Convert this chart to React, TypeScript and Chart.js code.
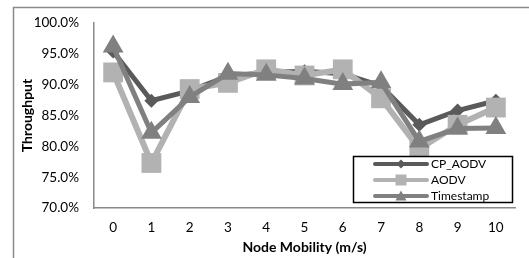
import React, { useEffect, useRef } from 'react';
import { Chart, registerables } from 'chart.js';

Chart.register(...registerables);

const categories = ['0', '1', '2', '3', '4', '5', '6', '7', '8', '9', '10'];
const cpAodv = [95.4, 87.4, 89.0, 91.4, 92.0, 92.2, 91.8, 89.8, 83.5, 85.8, 87.4];
const aodv = [92.0, 77.3, 89.3, 90.3, 92.5, 91.5, 92.5, 87.8, 79.6, 83.5, 86.3];
const timestamp = [96.2, 82.2, 88.0, 91.8, 91.6, 91.0, 90.1, 90.4, 80.8, 82.9, 83.0];
const seriesNames = ['CP_AODV', 'AODV', 'Timestamp'];
const yTicks = [70, 75, 80, 85, 90, 95, 100];

const C_CP = '#5a5a5a';
const C_AODV = '#b2b2b2';
const C_TS = '#808080';
const FONT = 'Lato, "Open Sans", sans-serif';

function marker(ctx: CanvasRenderingContext2D, kind: string, x: number, y: number, s: number) {
  ctx.beginPath();
  if (kind === 'diamond') {
    ctx.moveTo(x, y - s);
    ctx.lineTo(x + s, y);
    ctx.lineTo(x, y + s);
    ctx.lineTo(x - s, y);
  } else if (kind === 'square') {
    ctx.rect(x - s, y - s, 2 * s, 2 * s);
  } else {
    ctx.moveTo(x, y - s);
    ctx.lineTo(x + s, y + s * 0.8);
    ctx.lineTo(x - s, y + s * 0.8);
  }
  ctx.closePath();
  ctx.fill();
}

const framePlugin = {
  id: 'frame',
  beforeDraw(chart: any) {
    const ctx = chart.ctx;
    ctx.save();
    ctx.fillStyle = '#ffffff';
    ctx.fillRect(0, 0, chart.width, chart.height);
    ctx.strokeStyle = '#8a8a8a';
    ctx.lineWidth = 1.5;
    ctx.beginPath();
    ctx.moveTo(13.5, chart.height);
    ctx.lineTo(13.5, 7.5);
    ctx.lineTo(chart.width, 7.5);
    ctx.stroke();
    ctx.restore();
  },
};

const legendPlugin = {
  id: 'customLegend',
  afterDatasetsDraw(chart: any) {
    const ctx = chart.ctx;
    ctx.save();
    const bx = 353.5, by = 156.5, bw = 159, bh = 46;
    ctx.fillStyle = '#ffffff';
    ctx.fillRect(bx, by, bw, bh);
    ctx.strokeStyle = '#000000';
    ctx.lineWidth = 1.5;
    ctx.strokeRect(bx, by, bw, bh);
    const colors = [C_CP, C_AODV, C_TS];
    const kinds = ['diamond', 'square', 'triangle'];
    const sizes = [4.5, 5.5, 5.5];
    const ys = [164, 180, 196];
    for (let i = 0; i < 3; i++) {
      ctx.strokeStyle = colors[i];
      ctx.fillStyle = colors[i];
      ctx.lineWidth = 4;
      ctx.lineCap = 'round';
      ctx.beginPath();
      ctx.moveTo(375, ys[i]);
      ctx.lineTo(427, ys[i]);
      ctx.stroke();
      marker(ctx, kinds[i], 401, ys[i], sizes[i]);
      ctx.fillStyle = '#000000';
      ctx.font = `12px ${FONT}`;
      ctx.textAlign = 'left';
      ctx.textBaseline = 'middle';
      ctx.fillText(seriesNames[i], 431, ys[i]);
    }
    ctx.restore();
  },
};

export default function App() {
  const ref = useRef<HTMLCanvasElement | null>(null);
  useEffect(() => {
    if (!ref.current) return;
    const chart = new Chart(ref.current, {
      type: 'line',
      data: {
        labels: categories,
        datasets: [
          {
            label: seriesNames[0],
            data: cpAodv,
            borderColor: C_CP,
            backgroundColor: C_CP,
            borderWidth: 5,
            pointStyle: 'rectRot',
            pointRadius: 7,
            pointBorderWidth: 0,
            tension: 0,
            order: 3,
          },
          {
            label: seriesNames[1],
            data: aodv,
            borderColor: C_AODV,
            backgroundColor: C_AODV,
            borderWidth: 6,
            pointStyle: 'rect',
            pointRadius: 14,
            pointBorderWidth: 0,
            tension: 0,
            order: 2,
          },
          {
            label: seriesNames[2],
            data: timestamp,
            borderColor: C_TS,
            backgroundColor: C_TS,
            borderWidth: 5,
            pointStyle: 'triangle',
            pointRadius: 12,
            pointBorderWidth: 0,
            tension: 0,
            order: 1,
          },
        ],
      },
      options: {
        responsive: false,
        animation: false,
        events: [],
        layout: { padding: { left: 14, top: 20, right: 11, bottom: 2 } },
        plugins: { legend: { display: false }, tooltip: { enabled: false } },
        scales: {
          x: {
            type: 'category',
            offset: true,
            grid: { display: false, drawTicks: false },
            border: { display: true, color: '#8a8a8a', width: 1.5 },
            ticks: { color: '#000', font: { family: FONT, size: 13.5 }, padding: 12, maxRotation: 0 },
            title: {
              display: true,
              text: 'Node Mobility (m/s)',
              color: '#000',
              font: { family: FONT, size: 14, weight: 'bold' },
              padding: { top: 0, bottom: 0 },
            },
            afterFit: (s: any) => {
              s.height = 48;
            },
          },
          y: {
            min: 70,
            max: 100,
            afterBuildTicks: (s: any) => {
              s.ticks = yTicks.map((v) => ({ value: v }));
            },
            grid: { display: false, drawTicks: false },
            border: { display: true, color: '#8a8a8a', width: 1.5 },
            ticks: {
              color: '#000',
              font: { family: FONT, size: 13.5 },
              padding: 15,
              callback: (v: any) => Number(v).toFixed(1) + '%',
            },
            title: {
              display: true,
              text: 'Throughput',
              color: '#000',
              font: { family: FONT, size: 14, weight: 'bold' },
              padding: { top: 5, bottom: 0 },
            },
            afterFit: (s: any) => {
              s.width = 80;
            },
          },
        },
      },
      plugins: [framePlugin, legendPlugin],
    });
    return () => chart.destroy();
  }, []);
  return (
    <div style={{ position: 'absolute', left: 0, top: 0, width: 529, height: 258 }}>
      <canvas ref={ref} width={529} height={258} style={{ display: 'block' }} />
    </div>
  );
}
